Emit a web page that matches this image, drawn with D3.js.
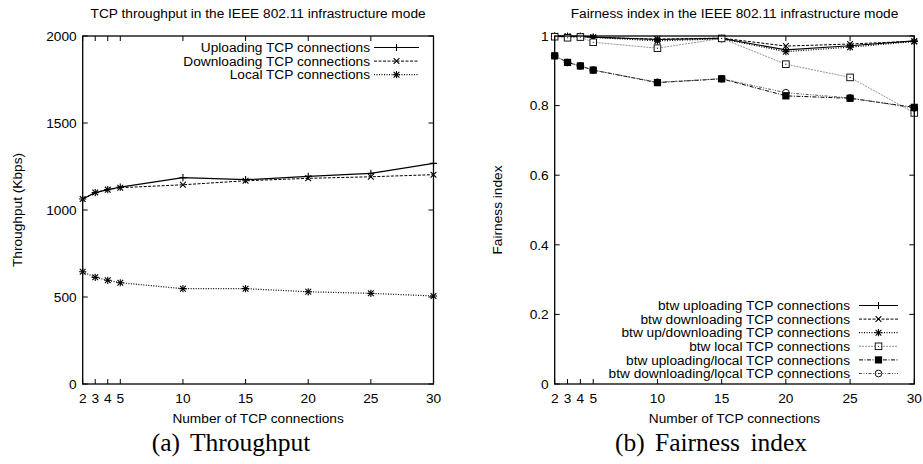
<!DOCTYPE html>
<html lang="en">
<head>
<meta charset="UTF-8">
<title>TCP throughput and fairness</title>
<script src="https://d3js.org/d3.v7.min.js"></script>
<style>
    body { margin: 0; background: #fff; }
    text { font-family: "Liberation Sans", Arial, sans-serif; fill: #000; }
    .cap { font-family: "Liberation Serif", "Times New Roman", serif; }
    .frame { fill: none; stroke: #000; stroke-width: 1.3px; }
    .tick { stroke: #000; stroke-width: 1px; }
</style>
</head>
<body>
<svg width="923" height="464"></svg>
<script>
// x values shared by both plots
var conns = [2, 3, 4, 5, 10, 15, 20, 25, 30];

// (a) throughput, Kbps
var thrTitle = "TCP throughput in the IEEE 802.11 infrastructure mode";
var thrTicks = [0, 500, 1000, 1500, 2000];
var uploading   = [1063, 1100, 1117, 1132, 1186, 1174, 1193, 1211, 1268];
var downloading = [1063, 1100, 1117, 1128, 1145, 1168, 1182, 1191, 1203];
var local       = [645, 613, 596, 582, 548, 548, 530, 521, 506];
var thrNames = ["Uploading TCP connections", "Downloading TCP connections", "Local TCP connections"];

// (b) fairness index
var fairTitle = "Fairness index in the IEEE 802.11 infrastructure mode";
var fairTicks = [0, 0.2, 0.4, 0.6, 0.8, 1];
var fUp       = [1.0, 0.999, 0.999, 0.997, 0.990, 0.993, 0.960, 0.972, 0.986];
var fDown     = [1.0, 0.998, 0.999, 0.996, 0.991, 0.994, 0.971, 0.977, 0.985];
var fUpDown   = [1.0, 0.999, 0.999, 0.996, 0.986, 0.992, 0.955, 0.968, 0.984];
var fLocal    = [0.998, 0.995, 0.997, 0.982, 0.965, 0.993, 0.919, 0.881, 0.779];
var fUpLocal  = [0.943, 0.924, 0.914, 0.902, 0.866, 0.877, 0.828, 0.821, 0.795];
var fDownLocal= [0.943, 0.924, 0.914, 0.902, 0.867, 0.877, 0.837, 0.822, 0.793];
var fairNames = ["btw uploading TCP connections", "btw downloading TCP connections",
    "btw up/downloading TCP connections", "btw local TCP connections",
    "btw uploading/local TCP connections", "btw downloading/local TCP connections"];

var svg = d3.select("svg");
var FS = 13.7;

// line styles like gnuplot's mono postscript terminal
var styles = [
    {dash: null,        color: "#000", width: 1.2, mark: "plus"},
    {dash: "3,1.5",     color: "#000", width: 1,   mark: "cross"},
    {dash: "1,1.5",     color: "#000", width: 1.2, mark: "star"},
    {dash: "2,1",       color: "#777", width: 0.8, mark: "box"},
    {dash: "4,1.5,1,1.5", color: "#000", width: 1, mark: "fbox"},
    {dash: "3,1.5,1,1.5,1,1.5", color: "#555", width: 1, mark: "circle"}
];

function marker(g, type, x, y) {
    var s = 3.6;
    var p = g.append("g").attr("transform", "translate(" + x + "," + y + ")");
    if (type == "plus" || type == "star") {
        p.append("path").attr("d", "M" + (-s) + ",0H" + s + "M0," + (-s) + "V" + s)
            .attr("stroke", "#000").attr("stroke-width", 1.1);
    }
    if (type == "cross" || type == "star") {
        var c = s * 0.8;
        p.append("path").attr("d", "M" + (-c) + "," + (-c) + "L" + c + "," + c + "M" + (-c) + "," + c + "L" + c + "," + (-c))
            .attr("stroke", "#000").attr("stroke-width", 1.1);
    }
    if (type == "box") {
        p.append("rect").attr("x", -3.3).attr("y", -3.3).attr("width", 6.6).attr("height", 6.6)
            .attr("fill", "#fff").attr("stroke", "#000").attr("stroke-width", 0.9);
        p.append("circle").attr("r", 0.6).attr("fill", "#000");
    }
    if (type == "fbox") {
        p.append("rect").attr("x", -3.6).attr("y", -3.6).attr("width", 7.2).attr("height", 7.2).attr("fill", "#000");
    }
    if (type == "circle") {
        p.append("circle").attr("r", 3.4).attr("fill", "none").attr("stroke", "#000").attr("stroke-width", 0.9);
        p.append("circle").attr("r", 0.6).attr("fill", "#000");
    }
}

function panel(o) {
    var x = d3.scaleLinear().domain([2, 30]).range([o.left, o.right]);
    var y = d3.scaleLinear().domain(o.domain).range([384, 36]);
    var g = svg.append("g");

    g.append("text").attr("x", (o.left + o.right) / 2).attr("y", 18)
        .attr("text-anchor", "middle").style("font-size", FS + "px").text(o.title);

    // ticks on all four sides, inward
    conns.forEach(function (c) {
        g.append("line").attr("class", "tick").attr("x1", x(c)).attr("x2", x(c)).attr("y1", 384).attr("y2", 379);
        g.append("line").attr("class", "tick").attr("x1", x(c)).attr("x2", x(c)).attr("y1", 36).attr("y2", 41);
        g.append("text").attr("x", x(c)).attr("y", 403).attr("text-anchor", "middle")
            .style("font-size", FS + "px").text(c);
    });
    o.ticks.forEach(function (t) {
        g.append("line").attr("class", "tick").attr("x1", o.left).attr("x2", o.left + 5).attr("y1", y(t)).attr("y2", y(t));
        g.append("line").attr("class", "tick").attr("x1", o.right).attr("x2", o.right - 5).attr("y1", y(t)).attr("y2", y(t));
        g.append("text").attr("x", o.left - 6).attr("y", y(t)).attr("dy", "0.35em").attr("text-anchor", "end")
            .style("font-size", FS + "px").text(t);
    });

    g.append("text").attr("x", (o.left + o.right) / 2).attr("y", 423).attr("text-anchor", "middle")
        .style("font-size", FS + "px").text("Number of TCP connections");
    g.append("text").attr("transform", "translate(" + o.ylabX + ",210) rotate(-90)")
        .attr("text-anchor", "middle").style("font-size", FS + "px").text(o.ylabel);

    var line = d3.line().x(function (d, i) { return x(conns[i]); }).y(function (d) { return y(d); });
    o.series.forEach(function (s, k) {
        var st = styles[o.styles[k]];
        g.append("path").datum(s).attr("d", line).attr("fill", "none")
            .attr("stroke", st.color).attr("stroke-width", st.width)
            .attr("stroke-dasharray", st.dash);
    });
    o.series.forEach(function (s, k) {
        var st = styles[o.styles[k]];
        s.forEach(function (v, i) { marker(g, st.mark, x(conns[i]), y(v)); });
    });

    // legend
    o.names.forEach(function (n, k) {
        var st = styles[o.styles[k]];
        var ly = o.legY + k * o.legStep;
        g.append("text").attr("x", o.legX).attr("y", ly).attr("dy", "0.35em").attr("text-anchor", "end")
            .style("font-size", FS + "px").text(n);
        g.append("line").attr("x1", o.legX + o.legGap).attr("x2", o.legX + o.legGap + o.legLen)
            .attr("y1", ly).attr("y2", ly).attr("stroke", st.color).attr("stroke-width", st.width)
            .attr("stroke-dasharray", st.dash);
        marker(g, st.mark, o.legX + o.legGap + o.legLen / 2, ly);
    });

    g.append("rect").attr("class", "frame").attr("x", o.left).attr("y", 36)
        .attr("width", o.right - o.left).attr("height", 348);

    g.append("text").attr("class", "cap").attr("x", o.capX).attr("y", 451).attr("text-anchor", "middle")
        .style("font-size", "25.5px").style("word-spacing", "4px").text(o.caption);
}

panel({
    left: 82.7, right: 433.5, domain: [0, 2000], ticks: thrTicks, title: thrTitle,
    ylabel: "Throughput (Kbps)", ylabX: 22,
    series: [uploading, downloading, local], styles: [0, 1, 2], names: thrNames,
    legX: 370, legY: 47.5, legStep: 13.6, legGap: 4, legLen: 45,
    caption: "(a) Throughput", capX: 231
});

panel({
    left: 554.7, right: 914.3, domain: [0, 1], ticks: fairTicks, title: fairTitle,
    ylabel: "Fairness index", ylabX: 502,
    series: [fUp, fDown, fUpDown, fLocal, fUpLocal, fDownLocal], styles: [0, 1, 2, 3, 4, 5], names: fairNames,
    legX: 850, legY: 305.5, legStep: 13.6, legGap: 9, legLen: 39,
    caption: "(b) Fairness index", capX: 711
});
</script>
</body>
</html>
